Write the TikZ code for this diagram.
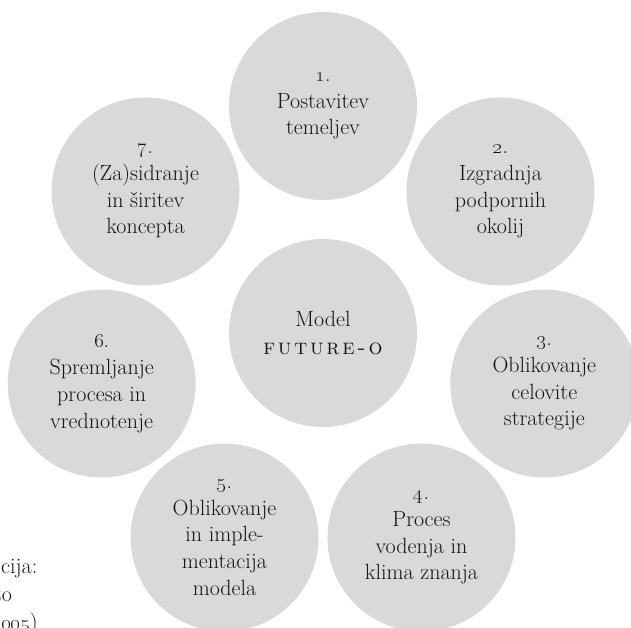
\documentclass[tikz,border=0pt]{standalone}
\usetikzlibrary{calc}
\definecolor{circgray}{RGB}{217,217,217}
\definecolor{txt}{RGB}{20,20,20}
\newcommand{\spc}{\kern2.8pt}
\tikzset{
  stage/.style={circle, fill=circgray, draw=none, minimum size=188pt, inner sep=0pt,
    align=center, text=txt, font=\fontsize{22}{26.7}\selectfont},
  frag/.style={anchor=base west, inner sep=0pt, text=txt, font=\fontsize{22}{26.7}\selectfont}
}
\begin{document}
\begin{tikzpicture}[x=1pt,y=-1pt]
\useasboundingbox (0,0) rectangle (631,627);
\coordinate (ctr) at (323,333);
\node[stage] (c0) at (ctr) {Model\\[1pt]\textsc{f\spc u\spc t\spc u\spc r\spc e\spc -\spc o}};
\node[stage] (c1) at ($(ctr)+(90:227pt)$) {\oldstylenums{1}.\\Postavitev\\temeljev};
\node[stage] (c2) at ($(ctr)+(38.57:227pt)$) {\oldstylenums{2}.\\Izgradnja\\podpornih\\okolij};
\node[stage] (c3) at ($(ctr)+(-12.86:227pt)$) {\oldstylenums{3}.\\Oblikovanje\\celovite\\strategije};
\node[stage] (c4) at ($(ctr)+(-64.29:227pt)$) {\oldstylenums{4}.\\Proces\\vodenja in\\klima znanja};
\node[stage] (c5) at ($(ctr)+(-115.71:227pt)$) {\oldstylenums{5}.\\Oblikovanje\\in imple-\\mentacija\\modela};
\node[stage] (c6) at ($(ctr)+(-167.14:227pt)$) {\oldstylenums{6}.\\Spremljanje\\procesa in\\vrednotenje};
\node[stage] (c7) at ($(ctr)+(141.43:227pt)$) {\oldstylenums{7}.\\(Za)sidranje\\in širitev\\koncepta};
\node[frag] (f1) at (1,573) {cija:};
\node[frag] (f2) at (-6,601) {to};
\node[frag] (f3) at (1,629) {\oldstylenums{005})};
\end{tikzpicture}
\end{document}
